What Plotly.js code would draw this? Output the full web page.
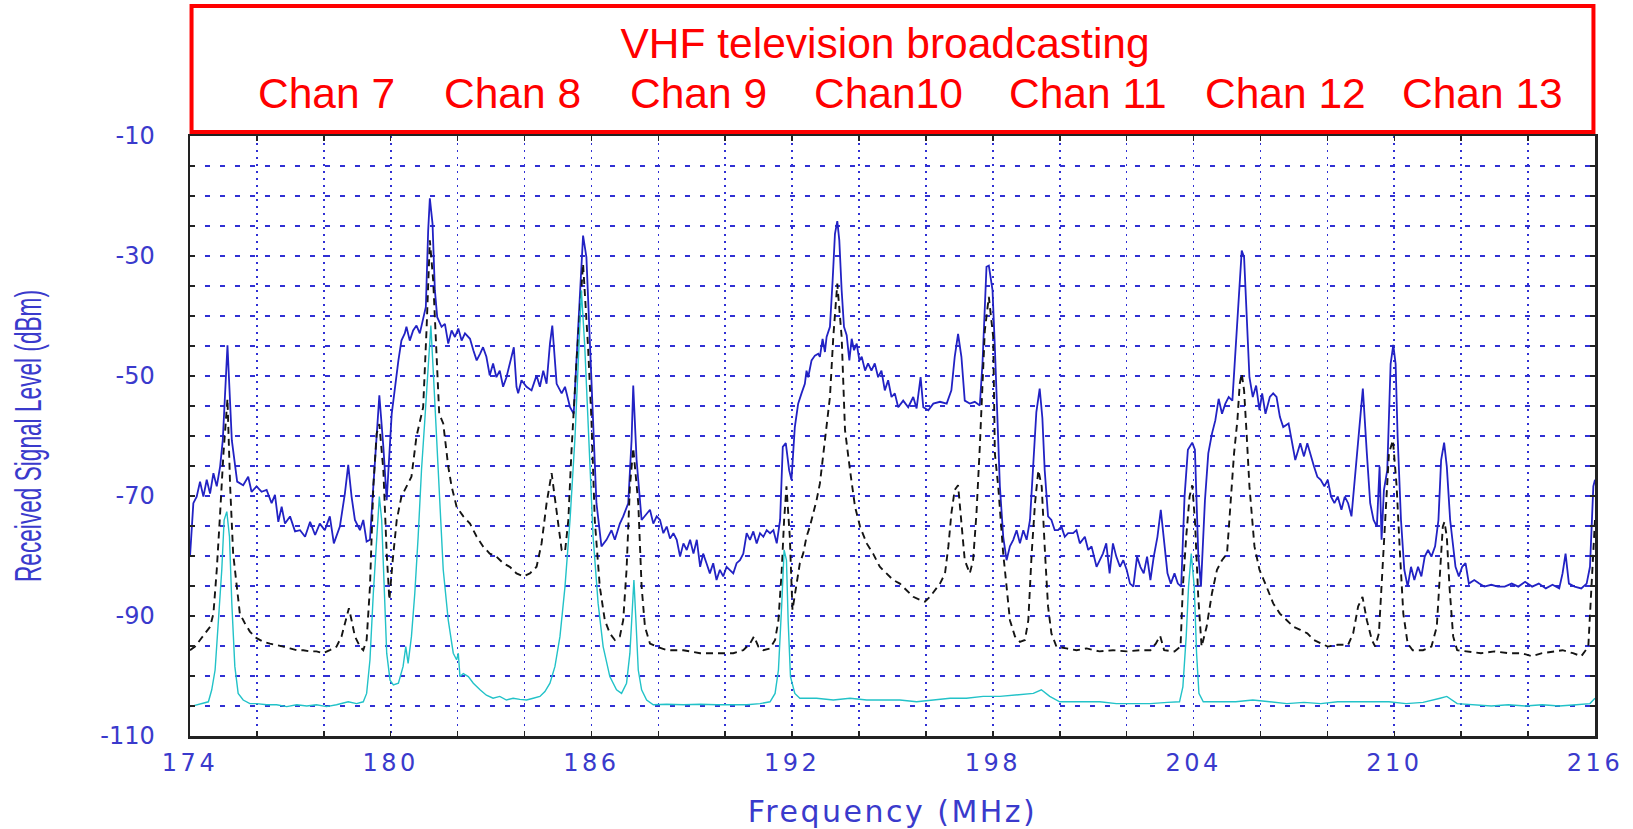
<!DOCTYPE html>
<html>
<head>
<meta charset="utf-8">
<script src="https://cdn.plot.ly/plotly-3.0.1.min.js"></script>
<style>
  html, body { margin: 0; padding: 0; background: #ffffff; }
  #chart { width: 1633px; height: 829px; }
  #chart .xtick text { letter-spacing: 3.5px; }
  #chart .xtitle { letter-spacing: 2.5px; }
</style>
</head>
<body>
<div id="chart"></div>
<script>
// ---------------- DATA ----------------
const blueFreq = [
  174.00,174.10,174.20,174.30,174.40,174.50,174.60,174.70,174.80,174.90,
  174.98,175.12,175.25,175.41,175.59,175.74,175.84,175.99,176.14,176.29,
  176.44,176.54,176.64,176.74,176.84,176.99,177.14,177.29,177.44,177.59,
  177.74,177.88,178.03,178.18,178.30,178.48,178.63,178.73,178.83,178.93,
  179.08,179.18,179.28,179.38,179.46,179.58,179.66,179.78,179.88,180.03,
  180.13,180.23,180.32,180.42,180.47,180.57,180.67,180.77,180.87,180.97,
  181.05,181.12,181.17,181.25,181.32,181.39,181.52,181.62,181.72,181.82,
  181.92,182.02,182.12,182.22,182.37,182.47,182.57,182.67,182.76,182.86,
  182.96,183.06,183.16,183.26,183.36,183.46,183.56,183.68,183.76,183.81,
  183.91,184.06,184.21,184.36,184.46,184.56,184.66,184.76,184.83,184.96,
  185.11,185.21,185.36,185.47,185.60,185.75,185.85,185.95,186.15,186.30,
  186.45,186.60,186.70,186.85,186.95,187.10,187.20,187.25,187.35,187.50,
  187.65,187.75,187.85,187.95,188.05,188.15,188.25,188.35,188.45,188.55,
  188.65,188.75,188.85,188.95,189.05,189.15,189.25,189.34,189.44,189.54,
  189.64,189.74,189.84,189.94,190.04,190.14,190.24,190.34,190.44,190.54,
  190.64,190.74,190.84,190.94,191.04,191.14,191.24,191.34,191.44,191.54,
  191.64,191.72,191.81,191.91,191.98,192.08,192.18,192.28,192.38,192.43,
  192.48,192.58,192.68,192.78,192.83,192.91,192.98,193.03,193.13,193.21,
  193.28,193.35,193.41,193.48,193.55,193.63,193.71,193.78,193.85,193.93,
  194.01,194.08,194.18,194.27,194.37,194.47,194.57,194.67,194.77,194.87,
  194.97,195.07,195.17,195.32,195.47,195.62,195.72,195.84,195.92,196.07,
  196.22,196.42,196.62,196.76,196.86,196.96,197.06,197.16,197.31,197.46,
  197.61,197.69,197.81,197.88,197.99,198.06,198.21,198.31,198.41,198.51,
  198.61,198.71,198.81,198.91,199.01,199.11,199.21,199.30,199.40,199.48,
  199.55,199.65,199.75,199.85,199.95,200.05,200.15,200.25,200.40,200.50,
  200.60,200.75,200.85,200.95,201.10,201.29,201.39,201.49,201.59,201.69,
  201.80,201.90,202.00,202.10,202.20,202.31,202.41,202.51,202.61,202.71,
  202.81,202.92,203.02,203.12,203.22,203.32,203.43,203.53,203.63,203.73,
  203.83,203.96,204.04,204.14,204.22,204.34,204.44,204.55,204.65,204.75,
  204.85,204.95,205.05,205.16,205.26,205.36,205.44,205.51,205.58,205.67,
  205.77,205.87,205.97,206.05,206.15,206.28,206.38,206.48,206.58,206.68,
  206.84,206.94,207.04,207.19,207.30,207.40,207.50,207.60,207.70,207.80,
  207.91,208.01,208.11,208.21,208.31,208.42,208.52,208.62,208.72,208.82,
  208.92,209.06,209.18,209.28,209.38,209.48,209.56,209.62,209.69,209.79,
  209.89,209.97,210.04,210.10,210.20,210.30,210.40,210.50,210.60,210.71,
  210.81,210.91,211.01,211.11,211.22,211.32,211.40,211.49,211.57,211.67,
  211.83,211.93,212.03,212.13,212.23,212.39,212.54,212.69,212.90,213.10,
  213.30,213.51,213.71,213.91,214.12,214.32,214.53,214.73,214.93,215.03,
  215.12,215.22,215.39,215.59,215.75,215.85,215.95,216.00
];
const blueLevel = [
  -80.1,-71.2,-70.1,-67.6,-70.1,-67.3,-69.6,-66.2,-68.4,-65.1,
  -60.7,-44.9,-60.7,-67.6,-68.2,-66.8,-69.3,-68.4,-69.3,-69.0,
  -71.2,-69.8,-74.3,-71.8,-74.6,-73.4,-75.9,-75.7,-76.8,-74.3,
  -76.5,-74.6,-75.7,-73.4,-77.9,-75.1,-69.6,-64.8,-70.1,-74.0,
  -75.7,-74.0,-77.6,-77.3,-70.1,-60.1,-53.2,-61.8,-70.7,-56.3,
  -51.3,-47.4,-44.1,-42.9,-41.8,-44.1,-42.4,-41.6,-42.9,-40.7,
  -38.5,-25.7,-20.4,-24.6,-35.7,-40.2,-41.8,-41.3,-44.6,-42.4,
  -43.5,-42.1,-44.1,-42.9,-43.8,-45.7,-47.4,-46.3,-45.2,-46.8,
  -49.9,-47.9,-50.2,-49.1,-51.8,-50.2,-47.9,-45.2,-51.8,-52.9,
  -50.7,-51.8,-52.4,-49.9,-51.8,-49.1,-51.3,-44.6,-41.6,-51.3,
  -52.9,-51.8,-55.2,-56.3,-42.4,-26.6,-30.2,-43.5,-71.2,-78.4,
  -77.3,-75.7,-77.3,-74.6,-73.4,-71.2,-60.7,-51.6,-64.0,-74.0,
  -72.9,-72.3,-74.6,-73.4,-74.0,-76.2,-75.1,-77.1,-76.2,-77.3,
  -80.1,-77.9,-79.0,-77.3,-79.6,-77.3,-81.8,-79.6,-81.2,-82.9,
  -81.2,-84.0,-82.3,-83.4,-81.8,-82.3,-82.9,-81.2,-80.7,-79.6,
  -76.2,-77.3,-75.9,-77.9,-76.2,-76.8,-75.7,-76.2,-75.7,-77.9,
  -74.0,-61.8,-61.2,-65.7,-67.3,-58.5,-54.6,-52.9,-51.3,-49.1,
  -50.2,-47.4,-46.6,-46.3,-46.8,-43.8,-46.0,-43.5,-41.8,-34.1,
  -26.3,-24.2,-27.4,-35.7,-41.8,-43.2,-47.4,-43.8,-45.7,-44.6,
  -47.4,-46.8,-49.1,-47.9,-49.1,-47.9,-50.2,-49.1,-52.4,-50.7,
  -53.5,-52.9,-55.2,-54.1,-55.2,-53.5,-55.4,-50.2,-55.2,-55.7,
  -54.6,-54.3,-54.6,-52.4,-46.8,-43.0,-46.8,-54.1,-54.6,-54.3,
  -54.9,-47.9,-31.8,-31.6,-35.7,-45.2,-68.4,-76.8,-80.7,-78.4,
  -77.3,-75.7,-77.9,-75.7,-77.3,-74.0,-64.0,-56.0,-52.1,-57.0,
  -65.7,-73.4,-74.0,-75.7,-75.7,-75.1,-76.8,-76.2,-76.2,-75.7,
  -77.9,-76.8,-79.0,-78.4,-81.8,-79.6,-77.9,-82.9,-77.9,-80.1,
  -81.8,-80.7,-82.3,-84.6,-85.1,-80.1,-81.8,-82.9,-80.1,-84.0,
  -80.1,-76.8,-72.3,-77.9,-82.9,-84.6,-82.9,-84.6,-85.1,-70.1,
  -62.3,-61.1,-62.3,-79.6,-85.1,-70.7,-62.9,-59.6,-57.4,-53.8,
  -56.3,-54.6,-53.5,-54.1,-45.2,-35.2,-29.1,-30.2,-39.6,-50.2,
  -53.5,-51.6,-55.7,-52.9,-56.3,-53.5,-52.9,-53.5,-56.8,-58.5,
  -57.9,-60.7,-64.0,-61.2,-63.4,-61.2,-63.4,-65.1,-66.8,-67.3,
  -68.4,-67.3,-70.1,-71.2,-70.1,-72.3,-70.1,-71.2,-73.4,-67.3,
  -60.7,-52.1,-62.9,-71.2,-74.0,-75.1,-65.1,-77.3,-69.0,-65.7,
  -48.0,-44.8,-48.0,-60.1,-74.0,-82.3,-85.1,-81.8,-84.0,-81.8,
  -83.4,-80.1,-79.0,-80.1,-78.4,-74.0,-64.0,-61.1,-65.1,-74.0,
  -81.8,-83.4,-81.8,-81.2,-84.6,-84.0,-84.6,-85.1,-84.8,-85.1,
  -85.1,-84.6,-85.1,-84.3,-85.1,-84.6,-85.4,-84.8,-85.4,-82.9,
  -79.6,-84.6,-85.1,-85.4,-84.6,-81.8,-68.4,-67.3
];

const blackFreq = [
  174.00,174.15,174.30,174.45,174.60,174.70,174.80,174.90,175.00,175.12,
  175.20,175.29,175.39,175.49,175.64,175.79,175.99,176.19,176.39,176.59,
  176.79,176.99,177.19,177.39,177.59,177.78,177.98,178.18,178.38,178.53,
  178.68,178.75,178.83,178.93,179.08,179.18,179.28,179.38,179.48,179.58,
  179.66,179.78,179.88,179.96,180.06,180.18,180.32,180.47,180.62,180.77,
  180.97,181.07,181.17,181.27,181.37,181.45,181.57,181.72,181.82,181.97,
  182.17,182.37,182.57,182.76,182.96,183.16,183.36,183.56,183.76,183.96,
  184.16,184.36,184.51,184.66,184.81,184.96,185.11,185.21,185.31,185.40,
  185.55,185.75,185.90,186.00,186.10,186.25,186.40,186.55,186.70,186.85,
  186.95,187.05,187.15,187.25,187.40,187.50,187.60,187.75,187.95,188.25,
  188.75,189.25,189.74,190.24,190.54,190.74,190.86,190.99,191.14,191.34,
  191.49,191.59,191.69,191.76,191.83,191.93,192.01,192.13,192.23,192.33,
  192.43,192.53,192.63,192.73,192.83,192.93,193.03,193.13,193.23,193.35,
  193.48,193.55,193.58,193.73,193.88,194.03,194.23,194.42,194.62,194.82,
  195.02,195.22,195.42,195.62,195.82,195.97,196.12,196.27,196.42,196.57,
  196.67,196.76,196.86,196.96,197.06,197.16,197.31,197.41,197.51,197.61,
  197.76,197.88,198.01,198.06,198.16,198.31,198.41,198.51,198.66,198.81,
  198.96,199.06,199.16,199.26,199.36,199.46,199.56,199.65,199.75,199.90,
  200.20,200.50,200.80,201.00,201.19,201.59,202.00,202.41,202.71,202.87,
  203.00,203.12,203.43,203.61,203.68,203.78,203.88,203.96,204.04,204.14,
  204.24,204.39,204.55,204.70,204.85,205.00,205.11,205.21,205.31,205.38,
  205.44,205.51,205.58,205.67,205.82,205.97,206.18,206.38,206.58,206.79,
  206.99,207.19,207.40,207.60,207.80,208.01,208.31,208.62,208.77,208.92,
  209.05,209.18,209.33,209.43,209.54,209.64,209.74,209.84,209.96,210.07,
  210.17,210.27,210.40,210.55,210.86,211.11,211.27,211.37,211.45,211.50,
  211.57,211.65,211.76,211.88,212.18,212.59,213.00,213.41,213.81,214.12,
  214.42,214.73,215.03,215.34,215.59,215.80,215.90,216.00
];
const blackLevel = [
  -95.7,-95.1,-94.0,-92.9,-91.8,-89.6,-82.3,-72.9,-62.9,-53.8,
  -68.4,-79.6,-85.1,-89.6,-91.2,-92.6,-93.7,-94.3,-94.6,-94.8,
  -95.1,-95.4,-95.7,-95.7,-95.9,-95.9,-96.2,-95.7,-95.1,-93.4,
  -90.1,-88.7,-90.7,-93.4,-95.1,-95.7,-94.0,-85.1,-68.4,-59.6,
  -58.0,-65.7,-79.6,-87.3,-80.7,-74.0,-70.1,-68.4,-66.8,-60.1,
  -55.2,-42.4,-27.4,-34.1,-47.9,-56.3,-57.9,-65.1,-68.4,-71.8,
  -73.4,-74.6,-76.8,-78.4,-79.6,-80.1,-81.2,-81.8,-82.9,-83.4,
  -82.9,-81.8,-77.9,-71.2,-66.2,-72.9,-79.0,-79.3,-74.0,-62.9,
  -47.9,-31.3,-45.2,-57.3,-74.0,-85.1,-90.7,-92.9,-94.0,-93.4,
  -90.7,-82.3,-68.4,-62.0,-71.2,-85.1,-91.8,-94.6,-95.1,-95.7,
  -95.7,-96.2,-96.2,-96.2,-95.7,-94.6,-93.4,-95.1,-95.7,-95.4,
  -94.0,-90.7,-82.3,-74.0,-68.4,-76.8,-89.0,-85.1,-81.2,-79.6,
  -76.8,-75.1,-72.9,-70.7,-67.9,-62.9,-58.4,-53.5,-43.5,-34.6,
  -43.5,-52.4,-59.0,-65.7,-71.8,-75.1,-77.9,-79.6,-81.8,-82.9,
  -84.0,-84.6,-85.7,-86.8,-87.3,-87.6,-86.8,-85.7,-84.6,-82.9,
  -78.4,-72.9,-69.0,-68.2,-74.0,-80.7,-82.9,-80.7,-72.9,-61.8,
  -42.4,-36.8,-43.5,-62.9,-68.4,-79.6,-85.1,-90.7,-93.4,-94.3,
  -94.0,-90.7,-79.6,-71.2,-65.7,-68.4,-79.6,-88.4,-92.9,-95.1,
  -95.4,-95.7,-95.4,-95.7,-95.9,-95.7,-95.9,-95.7,-95.7,-94.6,
  -93.3,-95.7,-95.9,-95.1,-85.1,-76.8,-70.1,-68.2,-74.0,-86.8,
  -95.1,-91.8,-86.2,-82.3,-80.7,-79.6,-71.2,-62.9,-57.4,-51.3,
  -49.6,-52.4,-59.1,-68.4,-78.4,-82.3,-85.1,-87.9,-89.6,-90.7,
  -91.8,-92.3,-92.9,-94.0,-94.6,-95.1,-94.8,-94.8,-92.9,-88.4,
  -86.8,-90.7,-94.0,-95.1,-92.9,-82.3,-71.2,-62.9,-60.7,-68.4,
  -79.6,-89.6,-94.6,-95.7,-95.7,-95.1,-91.8,-82.3,-75.1,-74.3,
  -76.8,-85.1,-93.4,-95.7,-95.9,-96.2,-95.9,-96.2,-96.2,-96.7,
  -96.2,-95.9,-95.7,-96.2,-96.7,-95.1,-85.1,-74.0
];

const cyanFreq = [
  174.00,174.20,174.40,174.55,174.65,174.75,174.85,174.95,175.02,175.10,
  175.18,175.25,175.34,175.44,175.59,175.79,175.99,176.29,176.59,176.89,
  177.19,177.49,177.78,178.08,178.38,178.73,178.98,179.18,179.28,179.38,
  179.48,179.58,179.66,179.73,179.80,179.88,179.98,180.08,180.23,180.37,
  180.45,180.52,180.62,180.72,180.82,180.92,181.02,181.12,181.20,181.27,
  181.37,181.47,181.57,181.72,181.87,181.97,182.02,182.07,182.17,182.32,
  182.47,182.67,182.86,183.06,183.26,183.46,183.66,183.86,184.06,184.26,
  184.46,184.61,184.76,184.91,185.06,185.21,185.36,185.51,185.60,185.70,
  185.80,185.95,186.05,186.20,186.35,186.55,186.75,186.90,187.05,187.15,
  187.22,187.27,187.33,187.40,187.50,187.65,187.85,188.25,188.75,189.25,
  189.74,190.24,190.64,191.04,191.34,191.49,191.59,191.69,191.76,191.83,
  191.88,191.95,192.08,192.23,192.73,193.23,193.73,194.23,194.72,195.22,
  195.72,196.22,196.72,197.21,197.71,198.21,198.71,199.21,199.45,199.70,
  200.00,200.40,200.80,201.20,201.69,202.20,202.71,203.22,203.58,203.68,
  203.78,203.85,203.93,204.02,204.09,204.16,204.29,204.75,205.26,205.77,
  206.28,206.79,207.30,207.80,208.31,208.82,209.33,209.84,210.35,210.86,
  211.37,211.57,211.88,212.39,212.90,213.41,213.91,214.42,214.93,215.44,
  215.85,216.00
];
const cyanLevel = [
  -105.1,-104.8,-104.6,-104.3,-102.3,-99.0,-90.7,-82.3,-74.0,-72.6,
  -76.8,-87.9,-98.4,-102.9,-104.0,-104.6,-104.6,-104.8,-104.8,-105.1,
  -104.8,-105.0,-104.8,-105.1,-104.8,-104.3,-104.6,-104.3,-102.9,-97.3,
  -86.2,-76.8,-70.1,-74.0,-85.1,-96.2,-100.7,-101.5,-101.2,-98.4,
  -95.1,-97.9,-93.4,-86.2,-76.8,-65.7,-57.3,-48.0,-41.6,-49.0,
  -60.1,-71.2,-82.3,-90.7,-96.2,-97.3,-96.2,-100.1,-99.6,-100.1,
  -101.2,-102.3,-103.2,-103.7,-103.4,-104.0,-103.7,-103.9,-104.0,-103.7,
  -103.4,-102.6,-101.2,-98.4,-93.4,-85.1,-74.0,-60.1,-48.0,-35.7,
  -45.0,-62.9,-76.8,-87.9,-95.1,-100.1,-102.3,-102.9,-101.2,-96.2,
  -88.4,-84.0,-90.7,-99.0,-102.3,-104.0,-104.8,-104.7,-104.8,-104.7,
  -104.8,-104.8,-104.8,-104.6,-104.3,-102.9,-99.0,-87.9,-79.0,-80.7,
  -90.7,-100.1,-102.9,-103.7,-103.7,-104.0,-103.7,-104.0,-104.0,-104.0,
  -104.3,-104.0,-103.7,-103.7,-103.4,-103.4,-103.2,-102.9,-102.3,-103.4,
  -104.3,-104.3,-104.3,-104.3,-104.6,-104.6,-104.6,-104.4,-104.3,-101.8,
  -93.4,-85.1,-79.6,-85.1,-96.2,-102.9,-104.3,-104.3,-104.3,-104.0,
  -104.3,-104.6,-104.4,-104.6,-104.3,-104.3,-104.3,-104.3,-104.6,-104.4,
  -103.7,-103.4,-104.6,-104.8,-105.0,-104.8,-105.0,-104.8,-105.0,-104.8,
  -104.6,-103.7
];

const xTickVals = [174,176,178,180,182,184,186,188,190,192,194,196,198,200,202,204,206,208,210,212,214,216];
const xTickText = ['174','','','180','','','186','','','192','','','198','','','204','','','210','','','216'];
const yTickVals = [-110,-105,-100,-95,-90,-85,-80,-75,-70,-65,-60,-55,-50,-45,-40,-35,-30,-25,-20,-15,-10];
const yTickText = ['-110','','','','-90','','','','-70','','','','-50','','','','-30','','','','-10'];

const chartTitle = 'VHF television broadcasting';
const channelLabels = ['Chan 7','Chan 8','Chan 9','Chan10','Chan 11','Chan 12','Chan 13'];
const xTitle = 'Frequency (MHz)';
const yTitle = 'Received Signal Level (dBm)';

// ---------------- LAYOUT / STYLE ----------------
const axisBlue = '#3a3acc';
const gridBlue = '#3030d4';
const chanLabelPaperX = [0.0975, 0.2292, 0.3616, 0.4975, 0.6391, 0.7794, 0.9196];

const traces = [
  { x: blueFreq, y: blueLevel, type: 'scatter', mode: 'lines',
    line: { color: '#2222c4', width: 1.8 }, name: 'blue' },
  { x: blackFreq, y: blackLevel, type: 'scatter', mode: 'lines',
    line: { color: '#141414', width: 1.9, dash: '7px,5px' }, name: 'black' },
  { x: cyanFreq, y: cyanLevel, type: 'scatter', mode: 'lines',
    line: { color: '#22c2c8', width: 1.4 }, name: 'cyan' }
];

const annotations = channelLabels.map((t, i) => ({
  text: t, xref: 'paper', yref: 'paper', x: chanLabelPaperX[i], y: 1.07,
  xanchor: 'center', yanchor: 'middle', showarrow: false,
  font: { family: 'Liberation Sans, Arial, sans-serif', size: 42.5, color: '#ff0000' }
}));

const layout = {
  width: 1633, height: 829,
  margin: { l: 190, r: 38, t: 136, b: 93 },
  paper_bgcolor: '#ffffff', plot_bgcolor: '#ffffff',
  showlegend: false,
  title: {
    text: chartTitle, xref: 'paper', x: 0.4947, xanchor: 'center',
    yref: 'container', y: 0.948, yanchor: 'middle',
    font: { family: 'Liberation Sans, Arial, sans-serif', size: 42.5, color: '#ff0000' }
  },
  xaxis: {
    range: [174, 216], tickmode: 'array', tickvals: xTickVals, ticktext: xTickText,
    showgrid: true, gridcolor: gridBlue, gridwidth: 1.6, griddash: '2px,5px',
    zeroline: false, showline: true, linecolor: '#222222', linewidth: 2.5, mirror: 'ticks',
    ticks: 'inside', ticklen: 5, tickwidth: 1.5, tickcolor: '#222222',
    ticklabelstandoff: 4,
    tickfont: { family: 'DejaVu Sans, sans-serif', size: 24, color: axisBlue },
    title: { text: xTitle, standoff: 31,
      font: { family: 'DejaVu Sans, sans-serif', size: 30, color: axisBlue } }
  },
  yaxis: {
    range: [-110, -10], tickmode: 'array', tickvals: yTickVals, ticktext: yTickText,
    showgrid: true, gridcolor: gridBlue, gridwidth: 2, griddash: '5px,10px',
    zeroline: false, showline: true, linecolor: '#222222', linewidth: 2.5, mirror: 'ticks',
    ticks: 'inside', ticklen: 5, tickwidth: 1.5, tickcolor: '#222222',
    ticklabelstandoff: 28,
    tickfont: { family: 'DejaVu Sans, sans-serif', size: 24, color: axisBlue },
    title: { text: yTitle, standoff: 48,
      font: { family: 'Liberation Sans, Arial, sans-serif', size: 37, color: axisBlue } }
  },
  shapes: [{
    type: 'rect', xref: 'paper', yref: 'paper',
    x0: 0.0011, x1: 0.9989, y0: 1.0067, y1: 1.2167,
    line: { color: '#ff0000', width: 4 }, fillcolor: 'rgba(0,0,0,0)'
  }],
  annotations: annotations
};

Plotly.newPlot('chart', traces, layout, { displayModeBar: false, staticPlot: true }).then(function (gd) {
  // the reference uses a tall, condensed face for the y title: squeeze the real text to its length
  var t = gd.querySelector('.ytitle');
  if (t) {
    t.setAttribute('textLength', '292');
    t.setAttribute('lengthAdjust', 'spacingAndGlyphs');
  }
});
</script>
</body>
</html>
